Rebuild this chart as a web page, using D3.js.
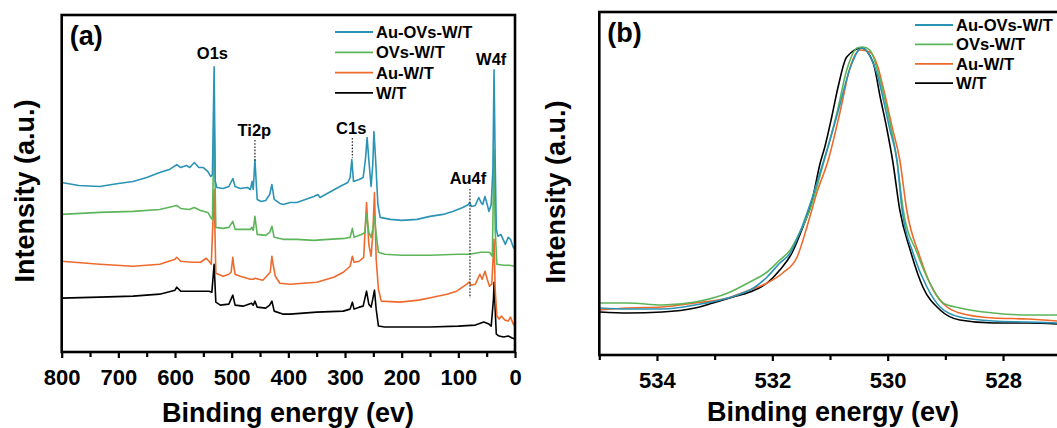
<!DOCTYPE html>
<html>
<head>
<meta charset="utf-8">
<script src="https://cdn.jsdelivr.net/npm/d3@7"></script>
<style>
  body { margin: 0; background: #fff; }
  text { font-family: "Liberation Sans", Arial, Helvetica, sans-serif; font-weight: bold; fill: #000; }
</style>
</head>
<body>
<svg id="chart" width="1057" height="428"></svg>
<script>
/*******************************************************************************************/
// Data (binding energy in eV, intensity in a.u.)

var seriesNames = ['Au-OVs-W/T', 'OVs-W/T', 'Au-W/T', 'W/T'];
var seriesColors = ['#2b93b5', '#5db55a', '#ee6a2c', '#000000'];

// (a) survey spectra, stacked
var surveyAuOVs = [[800,170],[770,167],[733,166],[700,169],[674,171],[650,175],[627,180],[610,183],[597,188],[590,185],
  [580,187],[574,185],[566,190],[558,185],[550,185],[542,181],[537,176],[534,178],[531,286],[529,171],
  [526,165],[515,164],[505,166],[498,174],[494,166],[485,164],[472,165],[467,163],[464,171],[462,163],
  [459,193],[455,153],[448,151],[440,152],[433,158],[429,168],[425,153],[415,149],[409,148],[397,150],
  [385,150],[370,153],[355,156],[348,158],[344,155],[325,161],[309,166],[295,170],[291,175],[288,193],
  [285,171],[275,173],[268,175],[264,193],[261,215],[258,193],[254,166],[251,188],[249,221],[246,193],
  [242,148],[238,135],[220,133],[200,132],[173,133],[150,136],[127,138],[110,141],[92,145],[82,148],
  [80,150],[77,146],[70,147],[64,155],[60,150],[57,148],[53,156],[49,148],[46,141],[42,148],
  [39,183],[37,283],[35,193],[33,123],[30,116],[25,118],[21,113],[17,108],[12,115],[8,113],[3,105],[0,103]];

var surveyOVs = [[800,138],[733,140],[674,141],[627,143],[597,147],[590,144],[575,143],[566,145],[555,142],[542,140],
  [537,135],[534,133],[531,233],[528,125],[515,124],[505,125],[498,131],[494,123],[480,123],[467,123],
  [464,125],[462,122],[459,136],[455,118],[440,117],[433,120],[429,126],[425,115],[409,113],[385,113],
  [355,112],[330,113],[300,114],[291,115],[287,124],[284,115],[270,118],[265,120],[262,138],[258,120],
  [254,115],[251,123],[248,136],[245,118],[241,100],[230,98],[200,97],[150,97],[100,98],[80,98],
  [60,100],[45,100],[40,96],[37,203],[35,123],[32,88],[20,87],[10,87],[0,86]];

var surveyAu = [[800,91],[733,88],[674,86],[627,88],[600,93],[597,95],[590,91],[570,90],[555,90],[545,94],
  [540,91],[536,88],[531,163],[528,79],[515,76],[505,78],[501,80],[498,95],[496,85],[494,78],
  [485,76],[467,73],[462,73],[459,74],[445,72],[432,80],[429,96],[427,88],[423,76],[415,69],
  [397,68],[350,70],[320,75],[303,80],[291,86],[287,96],[284,90],[275,91],[267,95],[262,150],
  [258,108],[254,96],[251,118],[248,160],[245,93],[241,63],[236,51],[203,50],[170,52],[145,55],
  [120,58],[103,61],[85,68],[81,70],[78,67],[70,68],[62,78],[58,73],[53,81],[49,73],
  [45,66],[41,68],[37,113],[35,63],[32,36],[28,33],[24,36],[18,32],[12,31],[8,35],[3,28],[0,26]];

var surveyWT = [[800,54],[733,55],[674,56],[627,58],[600,62],[597,65],[590,61],[570,61],[550,61],[540,61],
  [535,60],[531,88],[528,50],[520,47],[505,48],[498,57],[494,47],[480,46],[465,49],[462,47],
  [459,51],[455,45],[440,44],[433,47],[429,51],[425,41],[410,38],[397,38],[350,40],[303,41],
  [291,43],[287,50],[284,43],[275,45],[268,46],[262,61],[258,48],[254,45],[251,53],[248,62],
  [245,43],[241,26],[230,25],[200,25],[150,25],[100,26],[70,27],[55,30],[46,28],[42,26],
  [38,53],[37,70],[35,43],[33,18],[28,16],[20,15],[12,16],[5,14],[0,13]];

// (b) O1s high resolution spectra
var o1sAuOVs = [[534.99,47],[534.5,46],[533.91,46],[533.34,50],[532.77,57],[532.3,68],[532.09,78],[531.87,92],[531.69,102],
  [531.52,123],[531.35,150],[531.17,183],[531.0,215],[530.83,250],[530.65,287],[530.45,307],[530.19,282],
  [529.96,225],[529.84,195],[529.75,145],[529.56,102],[529.32,68],[529.09,48],[528.75,38],[528.17,34],[527.58,33],[527.06,32]];

var o1sOVs = [[534.99,52],[534.5,52],[533.91,50],[533.34,53],[532.77,62],[532.39,73],[532.09,83],[531.87,95],[531.69,105],
  [531.52,123],[531.35,145],[531.17,180],[531.05,205],[530.88,242],[530.71,285],[530.53,307],[530.43,308],[530.31,305],
  [530.13,275],[529.96,232],[529.84,195],[529.73,145],[529.49,102],[529.27,72],[529.04,52],[528.75,47],[528.17,42],[527.58,40],[527.06,40]];

var o1sAu = [[534.99,45],[534.5,47],[533.91,48],[533.34,52],[532.77,57],[532.39,65],[532.09,72],[531.82,82],[531.57,98],
  [531.4,128],[531.23,162],[531.03,195],[530.83,242],[530.65,288],[530.48,305],[530.31,303],[530.17,288],[530.08,268],
  [529.91,225],[529.79,195],[529.67,145],[529.44,98],[529.21,65],[528.97,48],[528.75,42],[528.17,37],[527.58,36],[527.06,34]];

var o1sWT = [[534.99,43],[534.5,42],[533.91,43],[533.34,47],[533.03,52],[532.68,58],[532.39,63],[532.09,72],[531.87,85],
  [531.66,102],[531.47,128],[531.32,152],[531.17,192],[531.09,208],[530.97,238],[530.86,268],[530.71,298],[530.45,307],
  [530.25,292],[530.13,258],[530.01,225],[529.91,193],[529.79,145],[529.61,105],[529.39,68],[529.09,45],[528.75,35],
  [528.17,32],[527.58,32],[527.06,31]];

// axis ticks
var surveyTicks = [800, 700, 600, 500, 400, 300, 200, 100, 0];
var surveyMinor = [750, 650, 550, 450, 350, 250, 150, 50];
var o1sTicks = [534, 532, 530, 528];
var o1sMinor = [535, 533, 531, 529, 527];

// peak assignments in (a): label, label energy, marker energy
var peakLabels = ['O1s', 'Ti2p', 'C1s', 'Au4f', 'W4f'];
var peakLabelEnergy = [534, 460, 289, 83, 42];
var peakLineEnergy = [null, 459, 287, 79.5, null];

/*******************************************************************************************/
// Drawing

var svg = d3.select('#chart');

function drawPanel(cfg){
  var g = svg.append('g');

  var x = d3.scaleLinear().domain(cfg.xDomain).range([cfg.left, cfg.right]);
  var y = d3.scaleLinear().domain(cfg.yDomain).range([cfg.bottom, cfg.top]);

  g.append('clipPath').attr('id', cfg.id + '_clip')
    .append('rect').attr('x', cfg.left).attr('y', cfg.top)
    .attr('width', cfg.right - cfg.left).attr('height', cfg.bottom - cfg.top);

  var line = d3.line()
    .x(function(d){ return x(d[0]); })
    .y(function(d){ return y(d[1]); })
    .curve(cfg.curve);

  // black first, blue drawn last (on top)
  for(var i = cfg.series.length - 1; i >= 0; i--){
    g.append('path').datum(cfg.series[i])
      .attr('clip-path', 'url(#' + cfg.id + '_clip)')
      .attr('d', line)
      .attr('fill', 'none')
      .attr('stroke', seriesColors[i])
      .attr('stroke-width', 1.6)
      .attr('stroke-linejoin', 'round');
  }

  // frame
  g.append('rect').attr('x', cfg.left).attr('y', cfg.top)
    .attr('width', cfg.right - cfg.left).attr('height', cfg.bottom - cfg.top)
    .attr('fill', 'none').attr('stroke', '#000').attr('stroke-width', 2.6);

  // bottom axis
  var ax = g.append('g').attr('transform', 'translate(0,' + cfg.bottom + ')')
    .call(d3.axisBottom(x).tickValues(cfg.ticks).tickSize(6).tickSizeOuter(0).tickFormat(d3.format('d')));
  ax.select('.domain').remove();
  ax.selectAll('.tick line').attr('stroke-width', 2.2);
  ax.selectAll('.tick text').attr('font-size', 22).attr('dy', 0).attr('y', cfg.tickBaseline - cfg.bottom)
    .style('font-family', '"Liberation Sans", Arial, sans-serif').style('font-weight', 'bold');

  var mx = g.append('g').attr('transform', 'translate(0,' + cfg.bottom + ')')
    .call(d3.axisBottom(x).tickValues(cfg.minor).tickSize(5).tickSizeOuter(0).tickFormat(''));
  mx.select('.domain').remove();
  mx.selectAll('.tick line').attr('stroke-width', 2.2);

  // titles
  g.append('text').attr('x', cfg.titleX)
    .attr('y', cfg.titleBaseline).attr('text-anchor', 'middle').attr('font-size', 27)
    .text('Binding energy (ev)');

  g.append('text').attr('transform', 'translate(' + cfg.yTitleX + ',' + cfg.yTitleY + ') rotate(-90)')
    .attr('text-anchor', 'middle').attr('font-size', 27).text('Intensity (a.u.)');

  g.append('text').attr('x', cfg.left + 8).attr('y', cfg.top + 30).attr('font-size', 27).text(cfg.panelLabel);

  // legend
  for(var i = 0; i < seriesNames.length; i++){
    var ly = cfg.legendY + i * cfg.legendGap;
    g.append('line').attr('x1', cfg.legendX).attr('x2', cfg.legendX + 38)
      .attr('y1', ly).attr('y2', ly).attr('stroke', seriesColors[i]).attr('stroke-width', 1.8);
    g.append('text').attr('x', cfg.legendX + 41).attr('y', ly + 6).attr('font-size', cfg.legendFont).text(seriesNames[i]);
  }

  return { g: g, x: x, y: y };
}

var panelA = drawPanel({
  id: 'a', panelLabel: '(a)',
  xDomain: [800, 0], yDomain: [0, 338],
  left: 61.7, right: 515, top: 15, bottom: 352,
  series: [surveyAuOVs, surveyOVs, surveyAu, surveyWT],
  curve: d3.curveLinear,
  ticks: surveyTicks, minor: surveyMinor, tickBaseline: 385,
  titleX: 288, titleBaseline: 422, yTitleX: 34, yTitleY: 191,
  legendX: 335, legendY: 32, legendGap: 20.3, legendFont: 16.5
});

var panelB = drawPanel({
  id: 'b', panelLabel: '(b)',
  xDomain: [535, 527], yDomain: [0, 343],
  left: 599.3, right: 1060.7, top: 12, bottom: 355,
  series: [o1sAuOVs, o1sOVs, o1sAu, o1sWT],
  curve: d3.curveMonotoneX,
  ticks: o1sTicks, minor: o1sMinor, tickBaseline: 388,
  titleX: 833, titleBaseline: 421, yTitleX: 565, yTitleY: 192,
  legendX: 915, legendY: 25, legendGap: 19.4, legendFont: 16.6
});

// peak labels and dotted markers for (a)
var peakY = { 'O1s': 59, 'Ti2p': 136, 'C1s': 134, 'Au4f': 184, 'W4f': 65 };
var markY = { 'Ti2p': [140, 161], 'C1s': [138, 158], 'Au4f': [189, 298] };

for(var i = 0; i < peakLabels.length; i++){
  panelA.g.append('text').attr('x', panelA.x(peakLabelEnergy[i])).attr('y', peakY[peakLabels[i]])
    .attr('text-anchor', 'middle').attr('font-size', 16.5).text(peakLabels[i]);
  if(peakLineEnergy[i] !== null){
    var px = panelA.x(peakLineEnergy[i]);
    panelA.g.append('line').attr('x1', px).attr('x2', px)
      .attr('y1', markY[peakLabels[i]][0]).attr('y2', markY[peakLabels[i]][1])
      .attr('stroke', '#333').attr('stroke-width', 1.3).attr('stroke-dasharray', '1.6,1.6');
  }
}
</script>
</body>
</html>
